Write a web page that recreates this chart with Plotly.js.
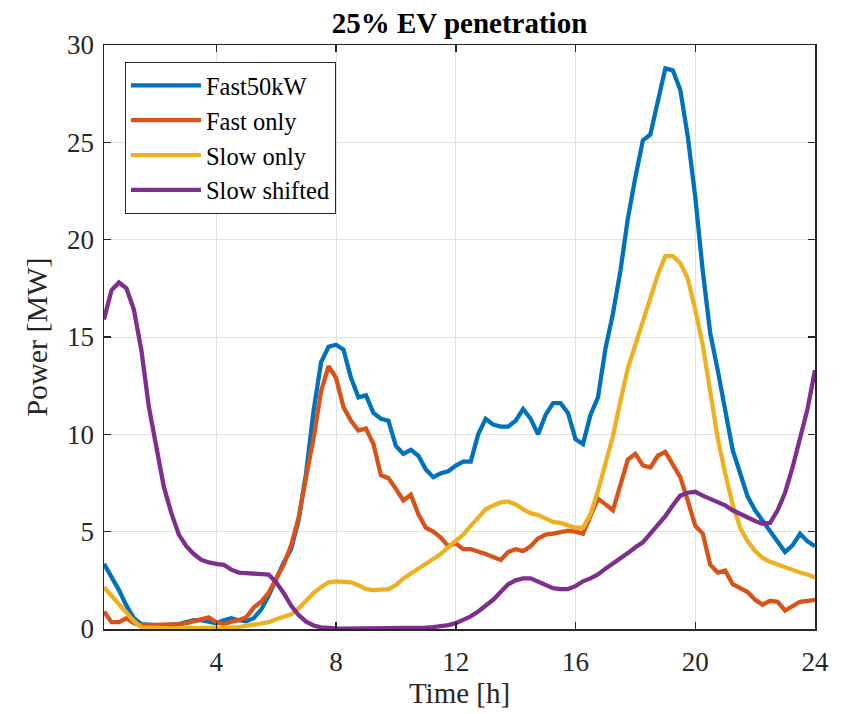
<!DOCTYPE html>
<html>
<head>
<meta charset="utf-8">
<script src="https://cdn.plot.ly/plotly-3.0.1.min.js"></script>
<style>
html,body{margin:0;padding:0;background:#fff;}
#chart{width:848px;height:714px;}
</style>
</head>
<body>
<div id="chart"></div>
<script>
// Time axis: 15-minute steps from 0.25 h to 24 h (96 samples)
var timeH = [];
for (var i = 1; i <= 96; i++) { timeH.push(i * 0.25); }

var seriesNames = ["Fast50kW", "Fast only", "Slow only", "Slow shifted"];

var fast50kW = [
  3.35, 2.7, 2.0, 1.2, 0.55, 0.25, 0.2, 0.2, 0.18, 0.2, 0.25, 0.35, 0.45, 0.45, 0.35, 0.3,
  0.45, 0.55, 0.45, 0.4, 0.55, 1.0, 1.7, 2.6, 3.4, 4.1, 5.6, 8.0, 11.2, 13.7, 14.5, 14.6,
  14.35, 12.9, 11.9, 12.0, 11.1, 10.8, 10.7, 9.4, 9.0, 9.2, 8.9, 8.2, 7.8, 8.0, 8.1, 8.4,
  8.6, 8.6, 10.0, 10.8, 10.5, 10.4, 10.4, 10.7, 11.3, 10.8, 10.0, 11.0, 11.6, 11.6, 11.1, 9.75,
  9.5, 11.0, 11.9, 14.4, 16.2, 18.4, 21.1, 23.2, 25.1, 25.4, 27.0, 28.8, 28.7, 27.7, 25.3, 22.2,
  18.4, 15.2, 13.3, 11.3, 9.2, 8.0, 6.8, 6.1, 5.55, 5.0, 4.45, 3.95, 4.3, 4.9, 4.5, 4.25
];

var fastOnly = [
  0.9, 0.35, 0.35, 0.55, 0.3, 0.2, 0.2, 0.2, 0.2, 0.2, 0.25, 0.3, 0.4, 0.5, 0.6, 0.35,
  0.26, 0.38, 0.45, 0.6, 1.1, 1.4, 1.85, 2.6, 3.3, 4.3, 5.7, 7.8, 9.8, 12.2, 13.5, 12.9,
  11.4, 10.7, 10.2, 10.3, 9.5, 7.9, 7.75, 7.2, 6.6, 6.9, 5.9, 5.2, 5.0, 4.7, 4.25, 4.4,
  4.1, 4.1, 4.0, 3.85, 3.7, 3.55, 3.95, 4.1, 4.0, 4.25, 4.65, 4.85, 4.9, 5.0, 5.05, 5.0,
  4.9, 5.8, 6.7, 6.4, 6.1, 7.4, 8.7, 9.0, 8.4, 8.3, 8.9, 9.1, 8.5, 7.8, 6.6, 5.3,
  4.9, 3.3, 2.9, 3.0, 2.3, 2.1, 1.9, 1.5, 1.25, 1.45, 1.4, 0.95, 1.15, 1.4, 1.45, 1.5
];

var slowOnly = [
  2.15, 1.7, 1.25, 0.8, 0.4, 0.08, 0.05, 0.05, 0.04, 0.03, 0.03, 0.03, 0.03, 0.03, 0.03, 0.03,
  0.05, 0.08, 0.1, 0.15, 0.2, 0.27, 0.35, 0.5, 0.6, 0.75, 1.05, 1.45, 1.85, 2.15, 2.4, 2.45,
  2.45, 2.4, 2.25, 2.05, 2.0, 2.0, 2.05, 2.25, 2.6, 2.85, 3.1, 3.35, 3.6, 3.85, 4.2, 4.5,
  4.85, 5.3, 5.75, 6.15, 6.35, 6.5, 6.55, 6.4, 6.15, 5.95, 5.85, 5.7, 5.5, 5.45, 5.3, 5.2,
  5.2, 5.9, 7.1, 8.5, 9.9, 11.7, 13.4, 14.6, 15.8, 17.1, 18.2, 19.15, 19.15, 18.8, 18.0, 16.4,
  14.6, 12.2, 9.8, 8.0, 6.4, 5.2, 4.5, 4.0, 3.65, 3.45, 3.3, 3.15, 3.0, 2.9, 2.8, 2.65
];

var slowShifted = [
  15.9, 17.4, 17.8, 17.5, 16.4, 14.3, 11.4, 9.2, 7.3, 5.95, 4.85, 4.25, 3.85, 3.55, 3.42, 3.35,
  3.3, 3.05, 2.9, 2.87, 2.86, 2.86, 2.8, 2.4, 1.85, 1.2, 0.72, 0.38, 0.18, 0.08, 0.04, 0.03,
  0.02, 0.02, 0.02, 0.02, 0.02, 0.02, 0.02, 0.03, 0.03, 0.04, 0.05, 0.07, 0.1, 0.13, 0.2, 0.3,
  0.45, 0.65, 0.9, 1.2, 1.5, 1.9, 2.3, 2.5, 2.6, 2.6, 2.45, 2.25, 2.1, 2.05, 2.05, 2.2,
  2.45, 2.6, 2.8, 3.1, 3.35, 3.6, 3.9, 4.2, 4.45, 4.9, 5.35, 5.8, 6.35, 6.85, 7.0, 7.05,
  6.85, 6.7, 6.5, 6.35, 6.1, 5.9, 5.7, 5.55, 5.4, 5.45, 6.1, 7.0, 8.3, 9.7, 11.3, 13.3
];

var xTickVals = [4, 8, 12, 16, 20, 24];
var yTickVals = [0, 5, 10, 15, 20, 25, 30];

var colors = ["#0072BD", "#D95319", "#EDB120", "#7E2F8E"];
var allSeries = [fast50kW, fastOnly, slowOnly, slowShifted];

var FONT = "Liberation Serif, Times New Roman, serif";
var traces = allSeries.map(function (ys, k) {
  return {
    x: timeH, y: ys, type: "scatter", mode: "lines",
    name: seriesNames[k],
    line: {color: colors[k], width: 4.3}
  };
});

var axisCommon = {
  showline: true, linecolor: "#262626", linewidth: 1.5, mirror: "ticks",
  ticks: "inside", ticklen: 7, tickwidth: 1.5, tickcolor: "#262626",
  showgrid: true, gridcolor: "#e0e0e0", gridwidth: 1, zeroline: false,
  tickfont: {family: FONT, size: 27, color: "#262626"}
};

var layout = {
  width: 848, height: 714,
  paper_bgcolor: "#ffffff", plot_bgcolor: "#ffffff",
  margin: {l: 104, r: 33, t: 45, b: 85},
  title: {
    text: "<b>25% EV penetration</b>",
    font: {family: FONT, size: 29, color: "#000000"},
    x: 0.5, xref: "paper", xanchor: "center",
    y: 0.968, yref: "container", yanchor: "middle"
  },
  xaxis: Object.assign({}, axisCommon, {
    range: [0.25, 24], tickmode: "array", tickvals: xTickVals,
    ticktext: xTickVals.map(String), ticklabelstandoff: 8,
    title: {text: "Time [h]", font: {family: FONT, size: 29, color: "#262626"}, standoff: 5}
  }),
  yaxis: Object.assign({}, axisCommon, {
    range: [0, 30], tickmode: "array", tickvals: yTickVals,
    ticktext: yTickVals.map(String), ticklabelstandoff: 3,
    title: {text: "Power [MW]", font: {family: FONT, size: 30, color: "#262626"}, standoff: 10}
  }),
  legend: {
    x: 0.0295, y: 0.971, xanchor: "left", yanchor: "top",
    bgcolor: "#ffffff", bordercolor: "#262626", borderwidth: 1,
    font: {family: FONT, size: 24.5, color: "#000000"},
    itemwidth: 70
  },
  showlegend: true
};

Plotly.newPlot("chart", traces, layout, {staticPlot: true, displayModeBar: false});
</script>
</body>
</html>
